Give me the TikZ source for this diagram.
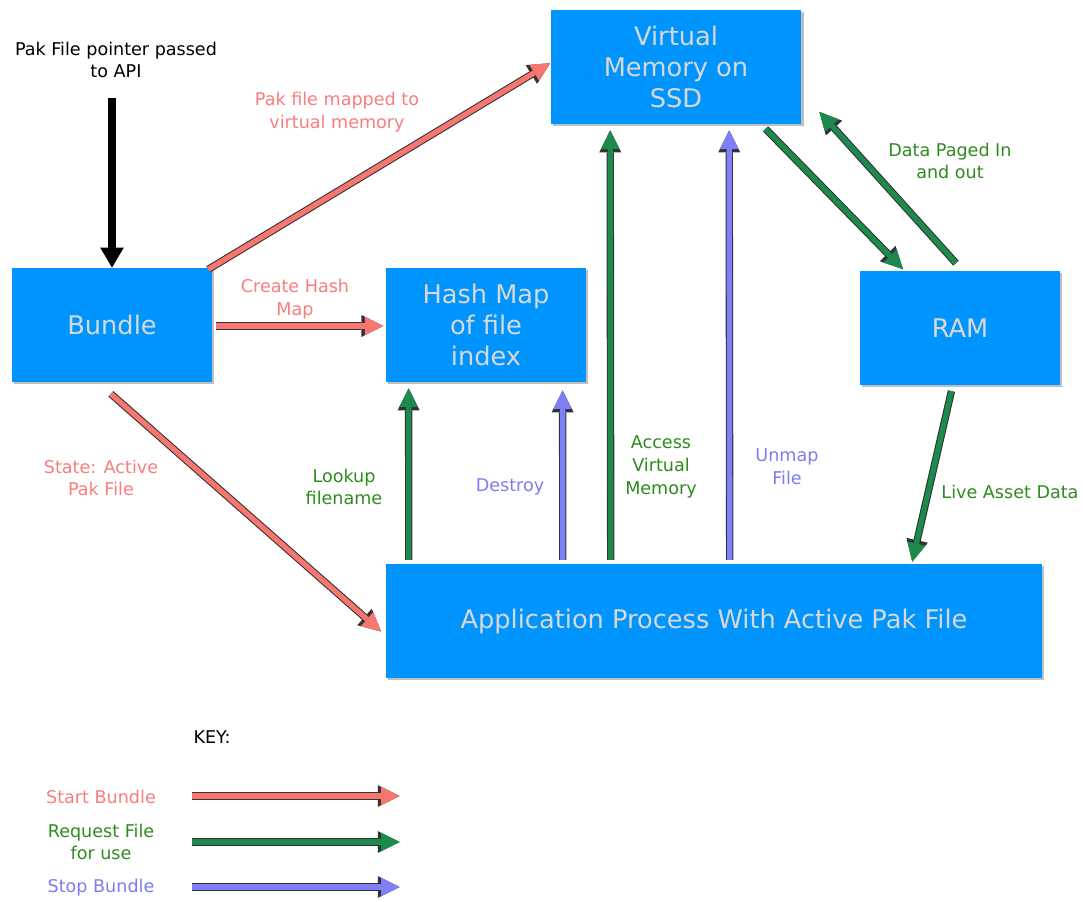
\documentclass[tikz,border=0pt]{standalone}
\usepackage{fontspec}
\setmainfont{DejaVu Sans}
\usetikzlibrary{arrows.meta,calc,shadows}
\definecolor{boxblue}{HTML}{0094FF}
\definecolor{boxtext}{HTML}{D8D8D8}
\definecolor{edge}{HTML}{333333}
\definecolor{startfill}{HTML}{F7766F}
\definecolor{starttext}{HTML}{F97D7D}
\definecolor{reqfill}{HTML}{1C8A4C}
\definecolor{reqtext}{HTML}{2E8B1E}
\definecolor{stopfill}{HTML}{7F7FF7}
\definecolor{stoptext}{HTML}{7C7CF4}
\tikzset{
  box/.style={fill=boxblue, text=boxtext, align=center, inner sep=2pt,
    font=\fontsize{14.6}{17.6}\selectfont, minimum width=4cm, minimum height=2.27cm,
    drop shadow={shadow xshift=1.2pt, shadow yshift=-1.2pt, fill=black, opacity=0.25}},
  lbl/.style={align=center, inner sep=1pt, font=\fontsize{10}{13}\selectfont},
  flow/.style={
    preaction={draw=edge, line width=4.2pt,
      -{Triangle[length=12.5pt, width=12.5pt, line width=0pt]}},
    draw=#1, line width=3pt, shorten >=1.3pt, shorten <=0.6pt,
    -{Triangle[length=10.6pt, width=10.6pt, line width=0pt]}},
  ptrarrow/.style={line width=4.5pt, -{Triangle[length=11.5pt, width=12.5pt]}},
}
\begin{document}
\begin{tikzpicture}[x=0.02cm, y=-0.02cm]
  \useasboundingbox (0,0) rectangle (1083,902);
  % Cajas
  \node[box, minimum width=5.02cm] (vm) at (676,67) {Virtual\\Memory on\\SSD};
  \node[box] (bundle) at (112,325) {Bundle};
  \node[box] (hash) at (486,325) {Hash Map\\of file\\index};
  \node[box] (ram) at (960,328) {RAM};
  \node[box, minimum width=13.12cm] (app) at (714,621) {Application Process With Active Pak File};
  % Puntero de entrada
  \node[lbl] (ptrlabel) at (116,60) {Pak File pointer passed\\to API};
  \coordinate (ptrstart) at (112,98);
  \draw[ptrarrow] (ptrstart) -- (bundle.north);
  % Start Bundle
  \draw[flow=startfill] ($(bundle.north east)+(-5,2)$) -- ($(vm.west)+(2,-5)$);
  \node[lbl, text=starttext] (maplabel) at (337,112) {Pak file mapped to\\virtual memory};
  \draw[flow=startfill] ($(bundle.east)+(3,1)$) -- ($(hash.west)+(0,1)$);
  \node[lbl, text=starttext] (hashlabel) at (295,299) {Create Hash\\Map};
  \draw[flow=startfill] ($(bundle.south)+(-2,11)$) -- ($(app.west)+(-3,12)$);
  \node[lbl, text=starttext] (statelabel) at (101,478) {State: Active\\Pak File};
  % Request File
  \draw[flow=reqfill] ($(app.north west)+(23,-3)$) -- ($(hash.south west)+(23,4)$);
  \node[lbl, text=reqtext] (lookuplabel) at (344,487) {Lookup\\filename};
  \draw[flow=reqfill] ($(app.north west)+(225,-3)$) -- ($(vm.south west)+(60,4)$);
  \node[lbl, text=reqtext] (accesslabel) at (661,467) {Access\\Virtual\\Memory};
  \draw[flow=reqfill] ($(vm.south east)+(-37,4)$) -- ($(ram.north west)+(45,0)$);
  \draw[flow=reqfill] ($(ram.north west)+(97,-7)$) -- ($(vm.south east)+(16,-14)$);
  \node[lbl, text=reqtext] (pagedlabel) at (950,161) {Data Paged In\\and out};
  \draw[flow=reqfill] ($(ram.south west)+(92,5)$) -- ($(app.north west)+(526,0)$);
  \node[lbl, text=reqtext] (livelabel) at (1010,492) {Live Asset Data};
  % Stop Bundle
  \draw[flow=stopfill] ($(app.north west)+(177,-3)$) -- ($(hash.south west)+(177,6)$);
  \node[lbl, text=stoptext] (destroylabel) at (510,487) {Destroy};
  \draw[flow=stopfill] ($(app.north west)+(344,-3)$) -- ($(vm.south west)+(179,4)$);
  \node[lbl, text=stoptext] (unmaplabel) at (787,467) {Unmap\\File};
  % Leyenda
  \node[lbl] (key) at (212,737) {KEY:};
  \node[lbl, text=starttext] (keystart) at (101,797) {Start Bundle};
  \node[lbl, text=reqtext] (keyreq) at (101,842) {Request File\\for use};
  \node[lbl, text=stoptext] (keystop) at (101,888) {Stop Bundle};
  \coordinate (ks1) at (191,796); \coordinate (ks2) at (402,796);
  \coordinate (kr1) at (191,842); \coordinate (kr2) at (402,842);
  \coordinate (kp1) at (191,887); \coordinate (kp2) at (402,887);
  \draw[flow=startfill] (ks1) -- (ks2);
  \draw[flow=reqfill] (kr1) -- (kr2);
  \draw[flow=stopfill] (kp1) -- (kp2);
\end{tikzpicture}
\end{document}
